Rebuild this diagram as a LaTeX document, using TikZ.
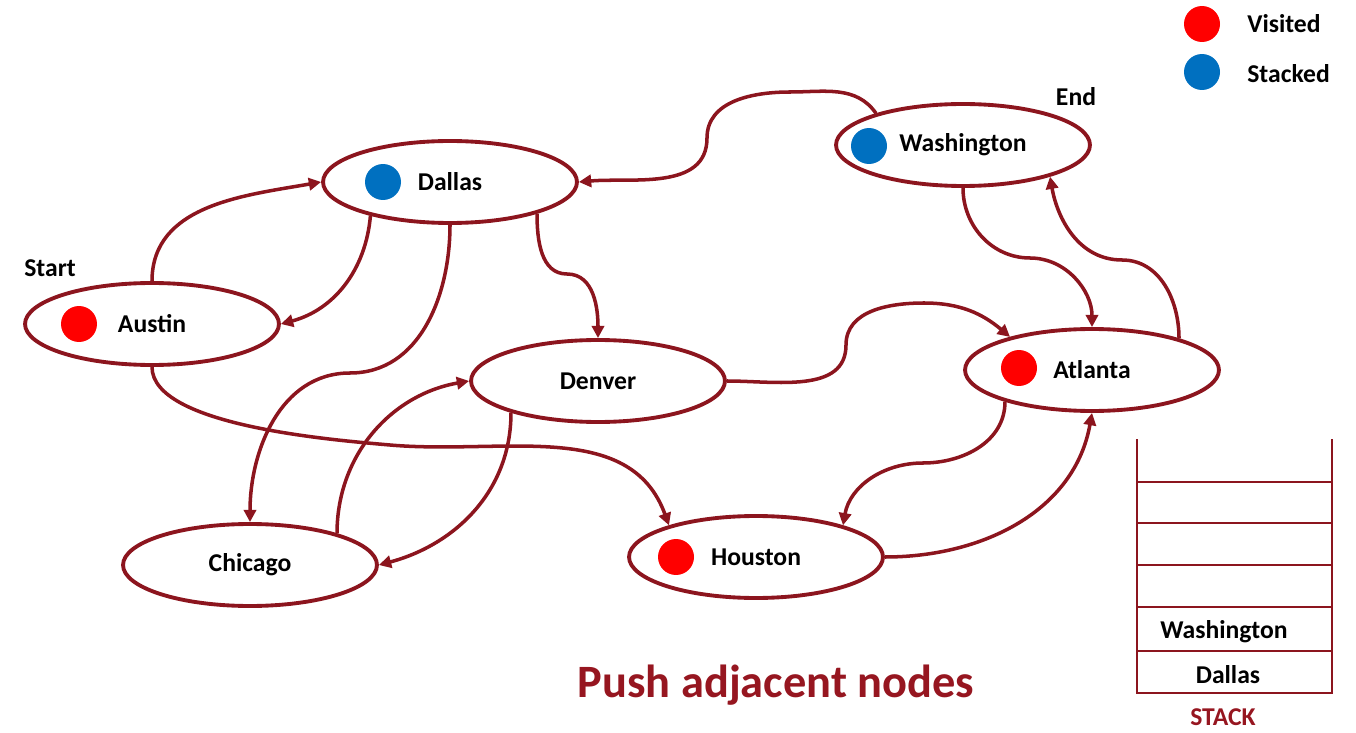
\documentclass[tikz,border=0pt]{standalone}
\usepackage{fontspec}
\setmainfont{Carlito}
\usetikzlibrary{shapes.geometric,arrows.meta}
\definecolor{edgered}{RGB}{140,21,30}
\definecolor{titlered}{RGB}{150,22,32}
\definecolor{visitred}{RGB}{255,0,0}
\definecolor{stackblue}{RGB}{0,112,192}
\tikzset{
  city/.style={ellipse, draw=edgered, line width=2.2pt, minimum width=5.08cm, minimum height=1.64cm, inner sep=0pt, font=\fontsize{14.6}{17}\selectfont\bfseries},
  visdot/.style={circle, fill=visitred, minimum size=0.72cm, inner sep=0pt},
  stkdot/.style={circle, fill=stackblue, minimum size=0.72cm, inner sep=0pt},
  link/.style={draw=edgered, line width=2pt, -{Triangle[length=7pt,width=7pt]}},
  lbl/.style={font=\fontsize{14.6}{17}\selectfont\bfseries, inner sep=0pt},
  stackline/.style={draw=edgered, line width=1.6pt}
}
\begin{document}
\begin{tikzpicture}[x=0.02cm,y=-0.02cm]
\useasboundingbox (0,0) rectangle (1356,733);

% cities
\node[city] (dallas) at (450,182) {Dallas};
\node[city] (austin) at (152,324) {Austin};
\node[city] (washington) at (963,145) {Washington};
\node[city] (denver) at (598,381) {Denver};
\node[city] (atlanta) at (1092,370) {Atlanta};
\node[city] (chicago) at (250,565) {Chicago};
\node[city] (houston) at (756,557) {Houston};

% dots
\node[stkdot] (ddot) at (383,182) {};
\node[visdot] (adot) at (79,324) {};
\node[stkdot] (wdot) at (869,146) {};
\node[visdot] (atdot) at (1019,368) {};
\node[visdot] (hdot) at (676,557) {};

% labels
\node[lbl] (start) at (50,268) {Start};
\node[lbl] (end) at (1076,97) {End};

% legend
\node[visdot] (legv) at (1202,24) {};
\node[lbl, anchor=west] (legvt) at (1247,24) {Visited};
\node[stkdot] (legs) at (1202,72) {};
\node[lbl, anchor=west] (legst) at (1247,74) {Stacked};

% waypoints
\coordinate (k3) at (350,373);
\coordinate (k4) at (567,274);
\coordinate (c5a) at (790,92);
\coordinate (c5b) at (707,138);
\coordinate (k6) at (1030,258);
\coordinate (k7) at (1122,260);
\coordinate (k8a) at (846,345);
\coordinate (k8b) at (924,303);
\coordinate (k9) at (390,445);
\coordinate (k12) at (923,463);

% edges
\draw[link] (austin.north) to[out=90,in=190] (dallas.west);
\draw[link] (dallas.203) to[out=-95,in=15] (austin.east);
\draw[link] (dallas.south) to[out=-90,in=0] (k3) to[out=180,in=90] (chicago.north);
\draw[link] (dallas.340) to[out=-90,in=180] (k4) to[out=0,in=90] (denver.north);
\draw[link] (washington.160) to[out=125,in=0] (c5a) to[out=180,in=90] (c5b) to[out=-90,in=5] (dallas.east);
\draw[link] (washington.south) to[out=-90,in=180] (k6) to[out=0,in=90] (atlanta.north);
\draw[link] (atlanta.20) to[out=90,in=0] (k7) to[out=180,in=-80] (washington.340);
\draw[link] (denver.east) to[out=0,in=-90] (k8a) to[out=90,in=180] (k8b) to[out=0,in=140] (atlanta.158);
\draw[link] (austin.south) to[out=-90,in=175,looseness=0.6] (k9) to[out=-5,in=110] (houston.160);
\draw[link] (chicago.20) to[out=90,in=190] (denver.west);
\draw[link] (denver.200) to[out=-90,in=15] (chicago.east);
\draw[link] (atlanta.200) to[out=-90,in=0] (k12) to[out=180,in=80] (houston.20);
\draw[link] (houston.east) to[out=0,in=-100] (atlanta.south);

% stack
\draw[stackline] (1137,439) -- (1137,693) -- (1332,693) -- (1332,439);
\foreach \yy in {482,523,565,607,651}
  \draw[stackline] (1137,\yy) -- (1332,\yy);
\node[lbl] (s1) at (1224,632) {Washington};
\node[lbl] (s2) at (1228,675) {Dallas};
\node[lbl, text=titlered] (stk) at (1223,717) {STACK};

% title
\node[font=\fontsize{26.4}{30}\selectfont\bfseries, text=titlered] (title) at (776,685) {Push adjacent nodes};
\end{tikzpicture}
\end{document}
